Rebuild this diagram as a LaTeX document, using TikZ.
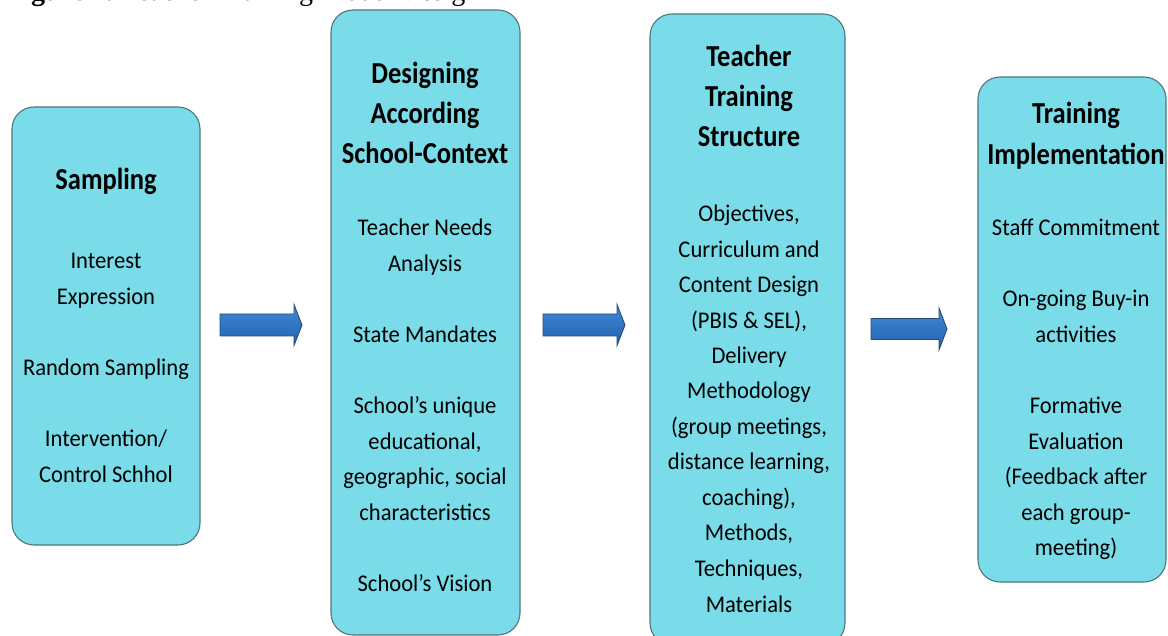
\documentclass[tikz,border=0pt]{standalone}
\usepackage{fontspec}
\setmainfont{Carlito}
\newfontfamily\capfont{Liberation Serif}
\usetikzlibrary{shapes.arrows}
\definecolor{boxfill}{HTML}{79DCE8}
\definecolor{boxline}{HTML}{4F767E}
\definecolor{arrtop}{HTML}{4089D8}
\definecolor{arrbot}{HTML}{2262AE}
\definecolor{arrline}{HTML}{2B4C72}
\tikzset{
  stage/.style={draw=boxline, line width=1.1pt, fill=boxfill, rounded corners=22pt, inner sep=0pt},
  ttl/.style={anchor=base, inner sep=0pt, font=\fontsize{26.5}{30}\selectfont\bfseries},
  bdy/.style={anchor=base, inner sep=0pt, font=\fontsize{22.6}{26}\selectfont},
  blockarrow/.style={draw=arrline, line width=0.9pt, top color=arrtop, bottom color=arrbot, line join=miter},
}
\newcommand\tv[1]{\scalebox{1}[1.15]{#1}}
\newcommand\bv[1]{\scalebox{1}[1.06]{#1}}
\begin{document}
\begin{tikzpicture}[x=1pt,y=-1pt]
\useasboundingbox (0,0) rectangle (1168,636);
\clip (0,0) rectangle (1168,636);
% caption (cut off at the top of the picture)
\node[anchor=base west, inner sep=0pt, font=\capfont\fontsize{28}{30}\selectfont] (cap) at (6,1) {\textbf{Figure 1.} Teacher Training Model Design};
% boxes
\node[stage, minimum width=188pt, minimum height=438pt] (s1) at (106,326) {};
\node[stage, minimum width=189pt, minimum height=625pt] (s2) at (425.5,322.5) {};
\node[stage, minimum width=195pt, minimum height=631pt] (s3) at (747.5,329.5) {};
\node[stage, minimum width=188pt, minimum height=505pt] (s4) at (1072,329.5) {};
% block arrows
\coordinate (a1) at (220,325);
\coordinate (a2) at (543,325);
\coordinate (a3) at (871,329);
\path[blockarrow] (a1) ++(0,-11) -- ++(74,0) -- ++(0,-9.5) -- ++(8,20.5) -- ++(-8,20.5) -- ++(0,-9.5) -- ++(-74,0) -- cycle;
\path[blockarrow] (a2) ++(0,-11) -- ++(74,0) -- ++(0,-9.5) -- ++(8,20.5) -- ++(-8,20.5) -- ++(0,-9.5) -- ++(-74,0) -- cycle;
\path[blockarrow] (a3) ++(0,-10.5) -- ++(68,0) -- ++(0,-10.5) -- ++(8,21) -- ++(-8,21) -- ++(0,-10.5) -- ++(-68,0) -- cycle;
% titles
\node[ttl] (t1) at (106,190) {\tv{Sampling}};
\foreach \y/\t [count=\i] in {84/Designing, 124/According, 164/School-Context}
  \node[ttl] (t2-\i) at (425,\y) {\tv{\t}};
\foreach \y/\t [count=\i] in {67/Teacher, 107/Training, 147/Structure}
  \node[ttl] (t3-\i) at (749,\y) {\tv{\t}};
\foreach \y/\t [count=\i] in {124/Training, 165/Implementation}
  \node[ttl] (t4-\i) at (1076,\y) {\tv{\t}};
% body lines
\foreach \y/\t [count=\i] in {269/Interest, 304.5/Expression, 375.5/{Random Sampling}, 446.5/{Intervention/}, 482/{Control Schhol}}
  \node[bdy] (b1-\i) at (106,\y) {\bv{\t}};
\foreach \y/\t [count=\i] in {236/{Teacher Needs}, 271.5/Analysis, 342.5/{State Mandates}, 413.5/{School’s unique}, 449/{educational,}, 484.5/{geographic, social}, 520/{characteristics}, 591/{School’s Vision}}
  \node[bdy] (b2-\i) at (425,\y) {\bv{\t}};
\foreach \y/\t [count=\i] in {222/{Objectives,}, 257.4/{Curriculum and}, 292.8/{Content Design}, 328.2/{(PBIS \& SEL),}, 363.6/{Delivery}, 399/{Methodology}, 434.4/{(group meetings,}, 469.8/{distance learning,}, 505.2/{coaching),}, 540.6/{Methods,}, 576/{Techniques,}, 612/{Materials}}
  \node[bdy] (b3-\i) at (749,\y) {\bv{\t}};
\foreach \y/\t [count=\i] in {236/{Staff Commitment}, 307/{On-going Buy-in}, 342.5/{activities}, 413.5/{Formative}, 449/{Evaluation}, 484.5/{(Feedback after}, 520/{each group-}, 555.5/{meeting)}}
  \node[bdy] (b4-\i) at (1076,\y) {\bv{\t}};
\end{tikzpicture}
\end{document}
